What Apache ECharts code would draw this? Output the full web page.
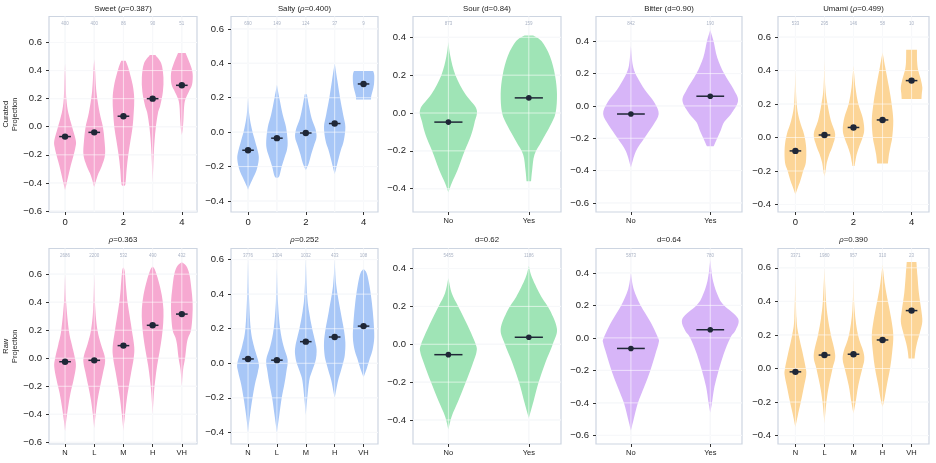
<!DOCTYPE html>
<html>
<head>
<meta charset="utf-8">
<script src="https://cdn.jsdelivr.net/npm/echarts@6/dist/echarts.min.js"></script>
<style>
html, body { margin: 0; padding: 0; background: #fff; }
#main { width: 936px; height: 463px; }
</style>
</head>
<body>
<div id="main"></div>
<script>
// 味道与统计量
var tastes = ['Sweet', 'Salty', 'Sour', 'Bitter', 'Umami'];
var curatedStat = ['ρ=0.387', 'ρ=0.400', 'd=0.84', 'd=0.90', 'ρ=0.499'];
var rawStat = ['ρ=0.363', 'ρ=0.252', 'd=0.62', 'd=0.64', 'ρ=0.390'];
var levelLabels = ['N', 'L', 'M', 'H', 'VH'];
var levelNumbers = [0, 2, 4]; //上排只标 0,2,4
var binaryLabels = ['No', 'Yes'];

//样本数
var curatedCounts = [[400, 400, 86, 90, 51], [690, 149, 124, 37, 9], [873, 159], [842, 190], [533, 295, 146, 58, 10]];
var rawCounts = [[2686, 2200, 532, 490, 432], [3776, 1304, 1032, 433, 108], [5455, 1186], [5873, 780], [3371, 1980, 957, 310, 23]];

//均值
var curatedMeans = [[-0.07, -0.04, 0.075, 0.2, 0.295], [-0.105, -0.035, -0.005, 0.05, 0.28], [-0.048, 0.08], [-0.05, 0.06], [-0.08, 0.015, 0.06, 0.105, 0.34]];
var rawMeans = [[-0.025, -0.015, 0.09, 0.235, 0.315], [0.025, 0.018, 0.125, 0.152, 0.215], [-0.055, 0.037], [-0.065, 0.05], [-0.02, 0.08, 0.085, 0.17, 0.345]];

//y轴范围与刻度
var curatedYLim = [[-0.607, 0.785], [-0.464, 0.672], [-0.523, 0.51], [-0.656, 0.553], [-0.445, 0.723]];
var rawYLim = [[-0.612, 0.783], [-0.467, 0.664], [-0.527, 0.506], [-0.653, 0.55], [-0.45, 0.715]];
var yTicks = [
	[-0.6, -0.4, -0.2, 0, 0.2, 0.4, 0.6],
	[-0.4, -0.2, 0, 0.2, 0.4, 0.6],
	[-0.4, -0.2, 0, 0.2, 0.4],
	[-0.6, -0.4, -0.2, 0, 0.2, 0.4],
	[-0.4, -0.2, 0, 0.2, 0.4, 0.6]
];
var xLim = [[-0.55, 4.52], [-0.59, 4.5], [-0.44, 1.4], [-0.44, 1.4], [-0.6, 4.6]];

//小提琴轮廓: [y, 相对密度]
var curatedShapes = [
	[
		[[0.45, 0], [0.35, 0.05], [0.2, 0.12], [0.1, 0.3], [0, 0.65], [-0.1, 1], [-0.15, 0.95], [-0.2, 0.8], [-0.3, 0.45], [-0.4, 0.15], [-0.45, 0]],
		[[0.48, 0], [0.4, 0.08], [0.25, 0.2], [0.1, 0.5], [0, 0.8], [-0.1, 0.95], [-0.2, 1], [-0.28, 0.7], [-0.35, 0.3], [-0.43, 0]],
		[[0.47, 0.2], [0.42, 0.45], [0.3, 0.85], [0.2, 1], [0.1, 0.95], [0, 0.85], [-0.1, 0.65], [-0.2, 0.45], [-0.3, 0.3], [-0.4, 0.2], [-0.42, 0.1]],
		[[0.51, 0.25], [0.45, 0.8], [0.35, 1], [0.25, 0.95], [0.15, 0.7], [0.1, 0.5], [0, 0.3], [-0.1, 0.18], [-0.2, 0.1], [-0.3, 0.05], [-0.39, 0]],
		[[0.525, 0.35], [0.45, 0.75], [0.38, 1], [0.3, 0.95], [0.25, 0.65], [0.2, 0.35], [0.15, 0.22], [0.05, 0.15], [-0.02, 0.08], [-0.06, 0]]
	],
	[
		[[0.2, 0], [0.1, 0.12], [0.02, 0.35], [-0.05, 0.65], [-0.12, 0.95], [-0.16, 1], [-0.22, 0.8], [-0.27, 0.45], [-0.31, 0.15], [-0.335, 0]],
		[[0.275, 0], [0.2, 0.22], [0.1, 0.55], [0.03, 0.85], [-0.05, 1], [-0.1, 0.95], [-0.15, 0.7], [-0.2, 0.45], [-0.25, 0.25], [-0.265, 0.1]],
		[[0.22, 0.1], [0.15, 0.3], [0.08, 0.55], [0.02, 0.9], [-0.03, 1], [-0.08, 0.75], [-0.13, 0.5], [-0.18, 0.28], [-0.22, 0]],
		[[0.4, 0], [0.3, 0.25], [0.2, 0.5], [0.1, 0.8], [0.03, 1], [-0.05, 0.85], [-0.1, 0.6], [-0.15, 0.38], [-0.2, 0.18], [-0.245, 0]],
		[[0.355, 0.9], [0.33, 1], [0.28, 0.98], [0.24, 0.85], [0.21, 0.72], [0.19, 0.7]]
	],
	[
		[[0.375, 0], [0.3, 0.07], [0.2, 0.25], [0.1, 0.6], [0.02, 1], [-0.05, 0.93], [-0.12, 0.8], [-0.2, 0.58], [-0.3, 0.33], [-0.37, 0.12], [-0.42, 0]],
		[[0.41, 0.15], [0.38, 0.45], [0.3, 0.75], [0.2, 0.93], [0.1, 1], [0, 0.95], [-0.07, 0.75], [-0.15, 0.45], [-0.22, 0.2], [-0.3, 0.12], [-0.36, 0.08]]
	],
	[
		[[0.37, 0], [0.25, 0.07], [0.18, 0.22], [0.1, 0.5], [0.02, 0.85], [-0.05, 1], [-0.12, 0.8], [-0.2, 0.48], [-0.28, 0.18], [-0.38, 0]],
		[[0.47, 0], [0.4, 0.12], [0.3, 0.25], [0.2, 0.5], [0.1, 0.85], [0.03, 1], [-0.05, 0.75], [-0.1, 0.5], [-0.15, 0.38], [-0.2, 0.25], [-0.25, 0.12]]
	],
	[
		[[0.4, 0], [0.2, 0.12], [0.1, 0.4], [0.02, 0.8], [-0.06, 1], [-0.15, 0.97], [-0.2, 0.72], [-0.26, 0.45], [-0.3, 0.22], [-0.34, 0]],
		[[0.47, 0], [0.3, 0.08], [0.2, 0.28], [0.1, 0.6], [0.02, 1], [-0.05, 0.75], [-0.1, 0.45], [-0.15, 0.22], [-0.2, 0.1], [-0.235, 0]],
		[[0.43, 0], [0.3, 0.18], [0.2, 0.45], [0.12, 0.85], [0.05, 1], [0, 0.85], [-0.05, 0.55], [-0.1, 0.3], [-0.15, 0.15], [-0.17, 0.1]],
		[[0.51, 0], [0.42, 0.25], [0.3, 0.6], [0.2, 0.85], [0.1, 1], [0, 0.9], [-0.05, 0.75], [-0.1, 0.6], [-0.155, 0.5]],
		[[0.525, 0.5], [0.45, 0.52], [0.4, 0.62], [0.35, 0.85], [0.3, 1], [0.26, 0.95], [0.23, 0.92]]
	]
];
var rawShapes = [
	[
		[[0.6, 0], [0.4, 0.1], [0.2, 0.35], [0.1, 0.62], [0, 0.92], [-0.06, 1], [-0.15, 0.8], [-0.25, 0.5], [-0.35, 0.28], [-0.45, 0.1], [-0.52, 0]],
		[[0.6, 0], [0.35, 0.1], [0.2, 0.3], [0.1, 0.62], [0.02, 0.95], [-0.03, 1], [-0.1, 0.82], [-0.2, 0.55], [-0.3, 0.3], [-0.4, 0.13], [-0.5, 0]],
		[[0.65, 0], [0.62, 0.12], [0.5, 0.25], [0.4, 0.38], [0.3, 0.58], [0.2, 0.78], [0.08, 1], [0, 0.95], [-0.1, 0.72], [-0.2, 0.5], [-0.3, 0.3], [-0.42, 0.12], [-0.52, 0]],
		[[0.655, 0], [0.63, 0.22], [0.55, 0.55], [0.45, 0.85], [0.35, 1], [0.25, 0.98], [0.15, 0.85], [0.05, 0.65], [-0.05, 0.42], [-0.15, 0.25], [-0.25, 0.12], [-0.4, 0]],
		[[0.685, 0], [0.66, 0.4], [0.6, 0.7], [0.5, 0.88], [0.4, 1], [0.3, 0.98], [0.2, 0.85], [0.15, 0.6], [0.1, 0.45], [0, 0.3], [-0.08, 0.12], [-0.2, 0]]
	],
	[
		[[0.6, 0], [0.4, 0.08], [0.2, 0.25], [0.1, 0.55], [0, 1], [-0.05, 0.92], [-0.12, 0.65], [-0.2, 0.42], [-0.3, 0.18], [-0.4, 0]],
		[[0.55, 0], [0.35, 0.1], [0.2, 0.3], [0.1, 0.62], [0.02, 1], [-0.05, 0.88], [-0.12, 0.7], [-0.2, 0.45], [-0.3, 0.22], [-0.4, 0]],
		[[0.6, 0], [0.4, 0.12], [0.3, 0.3], [0.2, 0.6], [0.1, 0.97], [0.05, 1], [0, 0.85], [-0.05, 0.55], [-0.1, 0.32], [-0.2, 0.14], [-0.3, 0]],
		[[0.6, 0], [0.45, 0.15], [0.3, 0.55], [0.2, 0.85], [0.12, 1], [0.05, 0.95], [0, 0.78], [-0.05, 0.55], [-0.1, 0.32], [-0.2, 0]],
		[[0.545, 0], [0.52, 0.3], [0.45, 0.55], [0.35, 0.78], [0.25, 0.93], [0.15, 1], [0.08, 0.85], [0.03, 0.6], [-0.03, 0.3], [-0.08, 0]]
	],
	[
		[[0.35, 0], [0.27, 0.12], [0.2, 0.35], [0.1, 0.68], [0, 0.97], [-0.04, 1], [-0.1, 0.87], [-0.2, 0.62], [-0.3, 0.35], [-0.38, 0.12], [-0.45, 0]],
		[[0.415, 0], [0.35, 0.12], [0.25, 0.45], [0.18, 0.75], [0.08, 1], [0, 0.85], [-0.1, 0.58], [-0.2, 0.35], [-0.3, 0.17], [-0.39, 0]]
	],
	[
		[[0.4, 0], [0.3, 0.1], [0.2, 0.35], [0.1, 0.7], [0, 0.98], [-0.03, 1], [-0.1, 0.88], [-0.2, 0.7], [-0.3, 0.48], [-0.4, 0.25], [-0.5, 0.1], [-0.57, 0]],
		[[0.48, 0], [0.35, 0.1], [0.25, 0.3], [0.2, 0.5], [0.12, 1], [0.05, 0.92], [0, 0.72], [-0.1, 0.48], [-0.2, 0.3], [-0.3, 0.15], [-0.4, 0.06], [-0.46, 0]]
	],
	[
		[[0.55, 0], [0.3, 0.1], [0.2, 0.3], [0.1, 0.65], [0, 0.97], [-0.04, 1], [-0.1, 0.82], [-0.2, 0.5], [-0.28, 0.22], [-0.35, 0]],
		[[0.6, 0], [0.4, 0.15], [0.3, 0.32], [0.2, 0.6], [0.08, 1], [0, 0.75], [-0.1, 0.42], [-0.2, 0.18], [-0.33, 0]],
		[[0.55, 0], [0.35, 0.1], [0.2, 0.42], [0.1, 0.92], [0.05, 1], [0, 0.82], [-0.1, 0.45], [-0.2, 0.2], [-0.27, 0]],
		[[0.62, 0], [0.5, 0.22], [0.4, 0.5], [0.3, 0.8], [0.2, 1], [0.1, 0.9], [0, 0.7], [-0.1, 0.4], [-0.18, 0.18], [-0.23, 0]],
		[[0.635, 0.45], [0.55, 0.55], [0.45, 0.68], [0.35, 0.9], [0.28, 1], [0.22, 0.8], [0.15, 0.5], [0.1, 0.35], [0.06, 0.28]]
	]
];

//样式
var colors = ['#f6a9d1', '#a8c7f7', '#9fe4b6', '#d7b5f8', '#fcd597'];
var colLeft = [49, 231, 413, 596, 778];
var colRight = [197, 378, 561, 742, 929];
var rowTop = [16.5, 248.5];
var rowBottom = [212, 444];
var FONT = '"Liberation Sans", Arial, sans-serif';
var DARK = '#1f2737';

(function() {
	var chart = echarts.init(document.getElementById('main'), null, { renderer: 'canvas' });
	var grids = [], xAxes = [], yAxes = [], series = [], graphics = [];

	function fmtY(v) {
		var s = Math.abs(v).toFixed(1);
		return v < -1e-9 ? '\u2212' + s : s;
	}

	function richTitle(s) {
		return s.replace('ρ', '{i|ρ}');
	}

	//把一侧轮廓的像素点连成平滑曲线(Catmull-Rom), 返回路径片段
	function smoothSide(pts) {
		var d = '';
		for (var i = 0; i < pts.length - 1; i++) {
			var p0 = pts[Math.max(i - 1, 0)], p1 = pts[i], p2 = pts[i + 1], p3 = pts[Math.min(i + 2, pts.length - 1)];
			var c1x = p1[0] + (p2[0] - p0[0]) / 6, c1y = p1[1] + (p2[1] - p0[1]) / 6;
			var c2x = p2[0] - (p3[0] - p1[0]) / 6, c2y = p2[1] - (p3[1] - p1[1]) / 6;
			d += ' C' + c1x.toFixed(2) + ' ' + c1y.toFixed(2) + ' ' + c2x.toFixed(2) + ' ' + c2y.toFixed(2) + ' ' + p2[0].toFixed(2) + ' ' + p2[1].toFixed(2);
		}
		return d;
	}

	/**
	 * 添加一个子图
	 * @param {Number} row 行(0 curated, 1 raw)
	 * @param {Number} c   列
	 */
	function addPanel(row, c) {
		var p = grids.length;
		var shapes = row === 0 ? curatedShapes[c] : rawShapes[c];
		var means = row === 0 ? curatedMeans[c] : rawMeans[c];
		var counts = row === 0 ? curatedCounts[c] : rawCounts[c];
		var yl = row === 0 ? curatedYLim[c] : rawYLim[c];
		var xl = xLim[c];
		var n = shapes.length;
		var binary = n === 2;
		var halfW = binary ? 0.35 : 0.37;
		var barHalf = binary ? 0.175 : 0.2;
		var cats = [];
		for (var k = 0; k < n; k++) cats.push(k);

		grids.push({
			left: colLeft[c], top: rowTop[row],
			width: colRight[c] - colLeft[c], height: rowBottom[row] - rowTop[row],
			show: true, borderColor: '#cdd5e1', borderWidth: 1.2, backgroundColor: 'transparent',
			containLabel: false, outerBoundsMode: 'none'
		});

		var xLabelVals, xFmt, xFont;
		if (binary) {
			xLabelVals = cats; xFmt = function(v) { return binaryLabels[Math.round(v)]; }; xFont = 7.5;
		} else if (row === 0) {
			xLabelVals = levelNumbers; xFmt = function(v) { return String(Math.round(v)); }; xFont = 9.5;
		} else {
			xLabelVals = cats; xFmt = function(v) { return levelLabels[Math.round(v)]; }; xFont = 7.5;
		}
		xAxes.push({
			type: 'value', gridIndex: p, min: xl[0], max: xl[1],
			splitLine: { show: false },
			axisLine: { show: false, onZero: false },
			axisTick: { show: true, length: 3, lineStyle: { color: '#333', width: 1 }, customValues: xLabelVals },
			axisLabel: { customValues: xLabelVals, formatter: xFmt, fontSize: xFont, color: '#222', margin: 5, fontFamily: FONT }
		});
		yAxes.push({
			type: 'value', gridIndex: p, min: yl[0], max: yl[1],
			splitLine: { show: false },
			axisLine: { show: false, onZero: false },
			axisTick: { show: true, length: 3, lineStyle: { color: '#333', width: 1 }, customValues: yTicks[c] },
			axisLabel: { customValues: yTicks[c], formatter: fmtY, fontSize: 9.5, color: '#222', margin: 7, fontFamily: FONT },
			name: c === 0 ? (row === 0 ? 'Curated\nProjection' : 'Raw\nProjection') : '',
			nameLocation: 'middle', nameGap: 30, nameRotate: 90,
			nameTextStyle: { fontSize: 7.5, color: '#222', lineHeight: 9, fontFamily: FONT }
		});

		//网格线(下层灰, 上层白)
		function gridSeries(over) {
			return {
				type: 'custom', xAxisIndex: p, yAxisIndex: p, z: over ? 3 : 1, silent: true,
				data: [[0, 0]],
				renderItem: function(params, api) {
					var ch = [];
					var st = over ? { stroke: 'rgba(255,255,255,0.6)', lineWidth: 1 } : { stroke: '#eceff4', lineWidth: 1 };
					yTicks[c].forEach(function(t) {
						var a = api.coord([xl[0], t]), b = api.coord([xl[1], t]);
						ch.push({ type: 'line', shape: { x1: a[0], y1: a[1], x2: b[0], y2: b[1] }, style: st });
					});
					cats.forEach(function(t) {
						var a = api.coord([t, yl[0]]), b = api.coord([t, yl[1]]);
						ch.push({ type: 'line', shape: { x1: a[0], y1: a[1], x2: b[0], y2: b[1] }, style: st });
					});
					return { type: 'group', children: ch };
				}
			};
		}
		series.push(gridSeries(false));

		//小提琴
		series.push({
			type: 'custom', xAxisIndex: p, yAxisIndex: p, z: 2, silent: true,
			data: cats.map(function(i) { return [i, means[i]]; }),
			renderItem: function(params, api) {
				var i = params.dataIndex, prof = shapes[i];
				var right = [], left = [];
				prof.forEach(function(d) { right.push(api.coord([i + d[1] * halfW, d[0]])); });
				for (var k = prof.length - 1; k >= 0; k--) left.push(api.coord([i - prof[k][1] * halfW, prof[k][0]]));
				var path = 'M' + right[0][0].toFixed(2) + ' ' + right[0][1].toFixed(2) + smoothSide(right) +
					' L' + left[0][0].toFixed(2) + ' ' + left[0][1].toFixed(2) + smoothSide(left) + ' Z';
				return { type: 'path', shape: { pathData: path }, style: { fill: colors[c] } };
			}
		});

		series.push(gridSeries(true));

		//均值与样本数
		series.push({
			type: 'custom', xAxisIndex: p, yAxisIndex: p, z: 4, silent: true,
			data: cats.map(function(i) { return [i, means[i]]; }),
			renderItem: function(params, api) {
				var i = params.dataIndex;
				var a = api.coord([i - barHalf, means[i]]), b = api.coord([i + barHalf, means[i]]);
				var m = api.coord([i, means[i]]);
				var t = api.coord([i, yl[1]]);
				return {
					type: 'group',
					children: [
						{ type: 'line', shape: { x1: a[0], y1: a[1], x2: b[0], y2: b[1] }, style: { stroke: DARK, lineWidth: 1.5 } },
						{ type: 'circle', shape: { cx: m[0], cy: m[1], r: binary ? 2.8 : 3.2 }, style: { fill: DARK } },
						{ type: 'text', x: t[0], y: t[1] + 7, style: { text: String(counts[i]), fill: '#aab3c5', fontSize: 4.5, fontFamily: FONT, align: 'center', verticalAlign: 'middle' } }
					]
				};
			}
		});

		//标题
		var title = row === 0 ? tastes[c] + ' (' + curatedStat[c] + ')' : rawStat[c];
		graphics.push({
			type: 'text', x: (colLeft[c] + colRight[c]) / 2, y: row === 0 ? 9 : 240,
			style: {
				text: richTitle(title), fill: '#222', fontSize: 7.8, fontFamily: FONT,
				align: 'center', verticalAlign: 'middle',
				rich: { i: { fontStyle: 'italic', fontSize: 7.8, fontFamily: FONT, fill: '#222' } }
			}
		});
	}

	for (var r = 0; r < 2; r++) {
		for (var c = 0; c < 5; c++) addPanel(r, c);
	}

	chart.setOption({
		animation: false,
		backgroundColor: '#fff',
		textStyle: { fontFamily: FONT },
		grid: grids,
		xAxis: xAxes,
		yAxis: yAxes,
		series: series,
		graphic: graphics
	});
})();
</script>
</body>
</html>
